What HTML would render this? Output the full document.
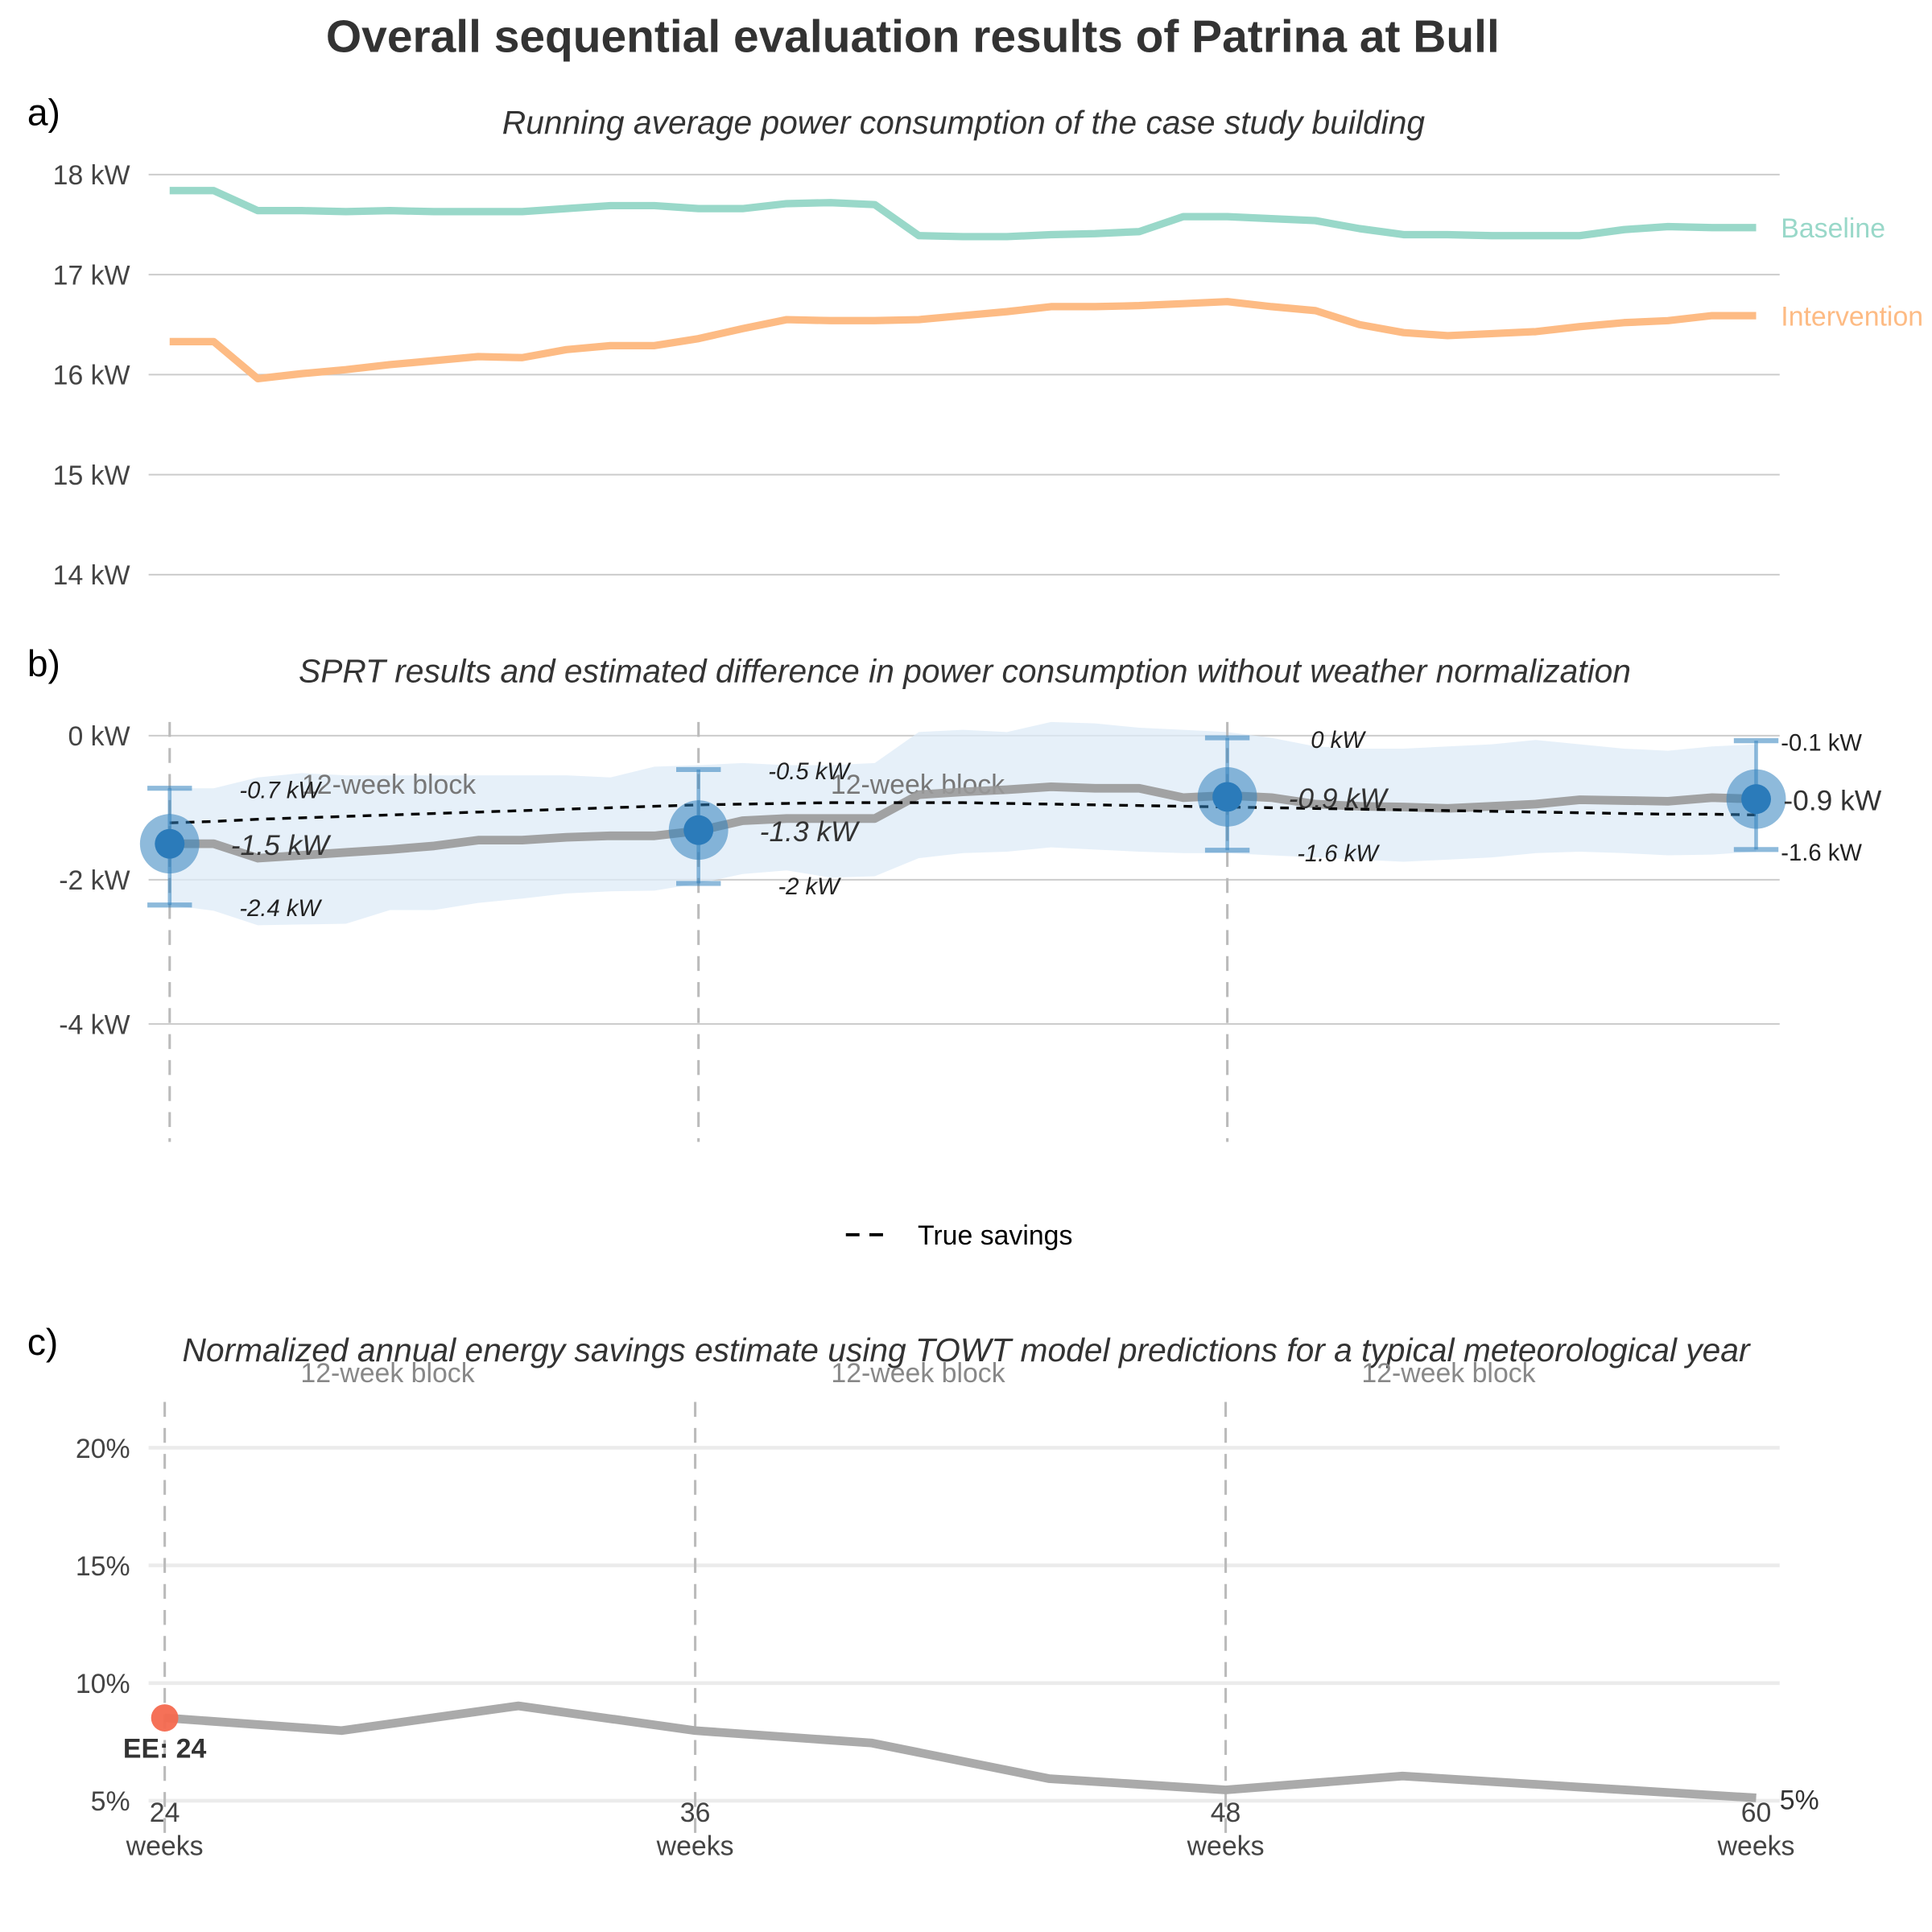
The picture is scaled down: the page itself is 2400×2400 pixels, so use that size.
<!DOCTYPE html>
<html><head><meta charset="utf-8">
<style>
html,body{margin:0;padding:0;background:#fff;}
svg{display:block;font-family:"Liberation Sans",Arial,sans-serif;}
</style></head>
<body>
<svg id="chart" width="2400" height="2400" viewBox="0 0 1560 1560" xmlns="http://www.w3.org/2000/svg">
<rect x="0" y="0" width="1560" height="1560" fill="#fff"/>
<text x="737" y="42" font-size="37" font-weight="bold" fill="#333" text-anchor="middle">Overall sequential evaluation results of Patrina at Bull</text>
<g id="pa"></g>
<g id="pb"></g>
<g id="pc"></g>
</svg>
<script>
const weeks = Array.from({length:37},(_,i)=>24+i);
const baseline = [17.84,17.84,17.64,17.64,17.63,17.64,17.63,17.63,17.63,17.66,17.69,17.69,17.66,17.66,17.71,17.72,17.70,17.39,17.38,17.38,17.40,17.41,17.43,17.58,17.58,17.56,17.54,17.46,17.40,17.40,17.39,17.39,17.39,17.45,17.48,17.47,17.47];
const intervention = [16.33,16.33,15.96,16.01,16.05,16.10,16.14,16.18,16.17,16.25,16.29,16.29,16.36,16.46,16.55,16.54,16.54,16.55,16.59,16.63,16.68,16.68,16.69,16.71,16.73,16.68,16.64,16.50,16.42,16.39,16.41,16.43,16.48,16.52,16.54,16.59,16.59];
const aTicks = [18,17,16,15,14];
const diffEst = [-1.50,-1.50,-1.70,-1.66,-1.62,-1.58,-1.53,-1.45,-1.45,-1.41,-1.39,-1.39,-1.32,-1.18,-1.15,-1.15,-1.15,-0.82,-0.78,-0.75,-0.71,-0.73,-0.73,-0.86,-0.83,-0.86,-0.95,-0.98,-0.99,-1.01,-0.98,-0.95,-0.89,-0.90,-0.91,-0.86,-0.88];
const bandUpper = [-0.73,-0.73,-0.58,-0.52,-0.55,-0.55,-0.55,-0.55,-0.55,-0.55,-0.58,-0.43,-0.41,-0.38,-0.41,-0.41,-0.38,0.05,0.08,0.05,0.19,0.17,0.11,0.08,0.05,-0.03,-0.15,-0.18,-0.18,-0.15,-0.12,-0.06,-0.12,-0.18,-0.21,-0.15,-0.12];
const bandLower = [-2.35,-2.43,-2.63,-2.62,-2.61,-2.42,-2.42,-2.32,-2.26,-2.19,-2.16,-2.15,-2.05,-1.92,-1.87,-1.97,-1.95,-1.70,-1.63,-1.61,-1.55,-1.58,-1.61,-1.63,-1.63,-1.66,-1.69,-1.72,-1.75,-1.72,-1.69,-1.63,-1.61,-1.63,-1.66,-1.65,-1.61];
const trueSavings = [-1.21,-1.19,-1.16,-1.14,-1.12,-1.10,-1.08,-1.06,-1.04,-1.02,-1.00,-0.98,-0.96,-0.95,-0.94,-0.93,-0.93,-0.93,-0.93,-0.94,-0.95,-0.96,-0.97,-0.98,-0.99,-1.00,-1.01,-1.02,-1.03,-1.04,-1.05,-1.06,-1.07,-1.08,-1.09,-1.09,-1.10];
const sprtWeeks = [24,36,48,60];
const sprtEst = [-1.50,-1.31,-0.85,-0.88];
const sprtUpper = [-0.73,-0.47,-0.03,-0.07];
const sprtLower = [-2.35,-2.05,-1.59,-1.58];
const sprtEstLabels = ["-1.5 kW","-1.3 kW","-0.9 kW","-0.9 kW"];
const sprtUpLabels = ["-0.7 kW","-0.5 kW","0 kW","-0.1 kW"];
const sprtLoLabels = ["-2.4 kW","-2 kW","-1.6 kW","-1.6 kW"];
const bTicks = [0,-2,-4];
const cWeeks = [24,28,32,36,40,44,48,52,56,60];
const cSavings = [8.52,7.98,9.03,7.98,7.45,5.94,5.46,6.05,5.58,5.12];
const cTicks = [20,15,10,5];
const xTickWeeks = [24,36,48,60];

const NS="http://www.w3.org/2000/svg";
function mk(parent,tag,attrs,text){const e=document.createElementNS(NS,tag);for(const k in attrs)e.setAttribute(k,attrs[k]);if(text!==undefined)e.textContent=text;parent.appendChild(e);return e;}
const pa=document.getElementById('pa'),pb=document.getElementById('pb'),pc=document.getElementById('pc');

// Panel A
const xA=w=>137+(w-24)*(1418-137)/36;
const yA=v=>141+(18-v)*80.75;
let t=mk(pa,'text',{x:22,y:101,'font-size':30,fill:'#000'},'a)');


t=mk(pa,'text',{x:778,y:108,'font-size':26.5,'font-style':'italic',fill:'#333','text-anchor':'middle'},'Running average power consumption of the case study building');


aTicks.forEach(v=>{
  const g=mk(pa,'line',{x1:120,x2:1437,y1:yA(v),y2:yA(v),stroke:'#cccccc','stroke-width':1.3});
  
  
  const l=mk(pa,'text',{x:105,y:yA(v)+8,'font-size':22,fill:'#444','text-anchor':'end'},v+' kW');
  
  
});
let p=mk(pa,'polyline',{points:weeks.map((w,i)=>xA(w)+','+yA(baseline[i])).join(' '),fill:'none',stroke:'#99d8c9','stroke-width':6,'stroke-linejoin':'round'});


p=mk(pa,'polyline',{points:weeks.map((w,i)=>xA(w)+','+yA(intervention[i])).join(' '),fill:'none',stroke:'#fdbb84','stroke-width':6,'stroke-linejoin':'round'});


t=mk(pa,'text',{x:1438,y:yA(baseline[36])+8,'font-size':22,fill:'#99d8c9'},'Baseline');


t=mk(pa,'text',{x:1438,y:yA(intervention[36])+8,'font-size':22,fill:'#fdbb84'},'Intervention');



// Panel B
const xB=w=>137+(w-24)*(1418-137)/36;
const yB=v=>594-v*58.2;
t=mk(pb,'text',{x:22,y:546,'font-size':30,fill:'#000'},'b)');


t=mk(pb,'text',{x:779,y:551,'font-size':26.5,'font-style':'italic',fill:'#333','text-anchor':'middle'},'SPRT results and estimated difference in power consumption without weather normalization');


bTicks.forEach(v=>{
  const g=mk(pb,'line',{x1:120,x2:1437,y1:yB(v),y2:yB(v),stroke:'#cccccc','stroke-width':1.3});
  
  
  const l=mk(pb,'text',{x:105,y:yB(v)+8,'font-size':22,fill:'#444','text-anchor':'end'},v+' kW');
  
  
});
const bandPts=weeks.map((w,i)=>xB(w)+','+yB(bandUpper[i])).concat(weeks.slice().reverse().map((w,j)=>xB(w)+','+yB(bandLower[36-j])));
p=mk(pb,'polygon',{points:bandPts.join(' '),fill:'#deebf7','fill-opacity':0.75});


[24,36,48].forEach(w=>{
  const d=mk(pb,'line',{x1:xB(w),x2:xB(w),y1:583,y2:922,stroke:'#bbbbbb','stroke-width':2,'stroke-dasharray':'12,9'});
  
  
});
[24,36].forEach(w=>{
  const l=mk(pb,'text',{x:xB(w)+177,y:641,'font-size':22,fill:'#777','text-anchor':'middle'},'12-week block');
  
  
});
p=mk(pb,'polyline',{points:weeks.map((w,i)=>xB(w)+','+yB(diffEst[i])).join(' '),fill:'none',stroke:'#999','stroke-opacity':0.9,'stroke-width':7,'stroke-linejoin':'round'});


p=mk(pb,'polyline',{points:weeks.map((w,i)=>xB(w)+','+yB(trueSavings[i])).join(' '),fill:'none',stroke:'#000','stroke-width':2.2,'stroke-dasharray':'7,6'});


sprtWeeks.forEach((w,i)=>{
  const x=xB(w);
  const e=mk(pb,'line',{x1:x,x2:x,y1:yB(sprtUpper[i]),y2:yB(sprtLower[i]),stroke:'#3182bd','stroke-opacity':0.55,'stroke-width':3});
  
  
  [sprtUpper[i],sprtLower[i]].forEach(v=>{
    const c=mk(pb,'line',{x1:x-18,x2:x+18,y1:yB(v),y2:yB(v),stroke:'#3182bd','stroke-opacity':0.55,'stroke-width':4});
    
    
  });
  const big=mk(pb,'circle',{cx:x,cy:yB(sprtEst[i]),r:24,fill:'#3182bd','fill-opacity':0.55});
  
  
  const sm=mk(pb,'circle',{cx:x,cy:yB(sprtEst[i]),r:12,fill:'#2b7bba'});
  
  
  const last=i===3;
  const lx=last?x+20:x+89;
  const anc=last?'start':'middle';
  const it=last?'normal':'italic';
  const l1=mk(pb,'text',{x:lx+(last?2:0),y:yB(sprtEst[i])+9,'font-size':23,'font-style':it,fill:'#333','text-anchor':anc},sprtEstLabels[i]);
  
  
  const l2=mk(pb,'text',{x:lx,y:yB(sprtUpper[i])+8,'font-size':19,'font-style':it,fill:'#222','text-anchor':anc},sprtUpLabels[i]);
  
  
  const l3=mk(pb,'text',{x:lx,y:yB(sprtLower[i])+9,'font-size':19,'font-style':it,fill:'#222','text-anchor':anc},sprtLoLabels[i]);
  
  
});
// legend
const lg=mk(pb,'g',{});


const ll=mk(lg,'line',{x1:683,x2:721,y1:997,y2:997,stroke:'#000','stroke-width':2.5,'stroke-dasharray':'11,8'});


t=mk(lg,'text',{x:741,y:1005,'font-size':22,fill:'#000'},'True savings');



// Panel C
const xC=w=>133+(w-24)*(1418-133)/36;
const yC=v=>1454-(v-5)*19.0;
t=mk(pc,'text',{x:22,y:1094,'font-size':30,fill:'#000'},'c)');


t=mk(pc,'text',{x:780,y:1099,'font-size':26.5,'font-style':'italic',fill:'#333','text-anchor':'middle'},'Normalized annual energy savings estimate using TOWT model predictions for a typical meteorological year');


cTicks.forEach(v=>{
  const g=mk(pc,'line',{x1:120,x2:1437,y1:yC(v),y2:yC(v),stroke:'#ebebeb','stroke-width':3});
  
  
  const l=mk(pc,'text',{x:105,y:yC(v)+8,'font-size':22,fill:'#444','text-anchor':'end'},v+'%');
  
  
});
[24,36,48].forEach(w=>{
  const d=mk(pc,'line',{x1:xC(w),x2:xC(w),y1:1132,y2:1488,stroke:'#bbbbbb','stroke-width':2,'stroke-dasharray':'12,9'});
  
  
});
[24,36,48].forEach(w=>{
  const l=mk(pc,'text',{x:xC(w)+180,y:1116,'font-size':22,fill:'#888','text-anchor':'middle'},'12-week block');
  
  
});
p=mk(pc,'polyline',{points:cWeeks.map((w,i)=>xC(w)+','+yC(cSavings[i])).join(' '),fill:'none',stroke:'#aaaaaa','stroke-width':7,'stroke-linejoin':'round'});


const ee=mk(pc,'circle',{cx:xC(24),cy:yC(cSavings[0]),r:11,fill:'#f4694f','fill-opacity':0.95});


t=mk(pc,'text',{x:xC(24),y:yC(cSavings[0])+32,'font-size':22,'font-weight':'bold',fill:'#333','text-anchor':'middle'},'EE: 24');


t=mk(pc,'text',{x:1437,y:yC(cSavings[9])+9,'font-size':22,fill:'#333'},'5%');


xTickWeeks.forEach(w=>{
  const a=mk(pc,'text',{x:xC(w),y:1471,'font-size':22,fill:'#444','text-anchor':'middle'},String(w));
  
  
  const b=mk(pc,'text',{x:xC(w),y:1498,'font-size':22,fill:'#444','text-anchor':'middle'},'weeks');
  
  
});
</script>
</body></html>
